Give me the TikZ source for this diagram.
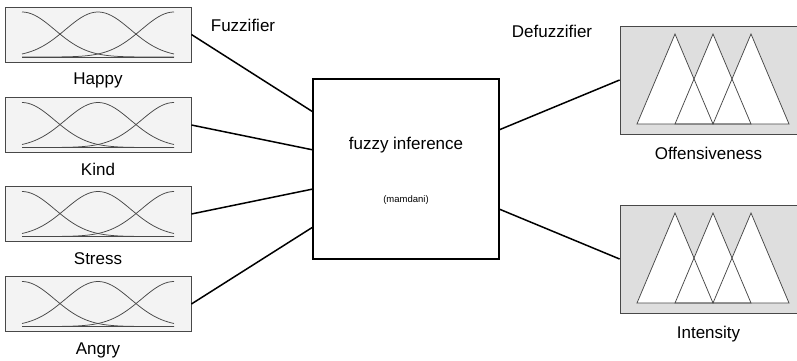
\documentclass[tikz,border=0pt]{standalone}
\usepackage{fontspec}
\setmainfont{Liberation Sans}
\usetikzlibrary{positioning,calc}
\definecolor{inbox}{HTML}{F3F3F3}
\definecolor{outbox}{HTML}{DEDEDE}
\definecolor{mfline}{HTML}{484848}

\begin{document}
\begin{tikzpicture}[x=1pt,y=-1pt,
    inset/.style={draw=mfline, fill=inbox, line width=0.8pt, minimum width=186pt, minimum height=55pt, inner sep=0pt},
    outset/.style={draw=mfline, fill=outbox, line width=0.8pt, minimum width=177pt, minimum height=108pt, inner sep=0pt},
    rulebox/.style={draw=black, line width=1.6pt, minimum width=186pt, minimum height=180pt, inner sep=0pt},
    varname/.style={font=\fontsize{17}{19}\selectfont, inner sep=0pt},
    mf/.style={draw=mfline, line width=0.75pt},
    link/.style={line width=1.5pt}]
\useasboundingbox (0,0) rectangle (797,361);

% inputs
\foreach \n/\lab/\y in {happy/Happy/34.5, kind/Kind/125, stress/Stress/214, angry/Angry/304}{
  \node[inset] (\n) at (98,\y) {};
  \node[varname, below=10.5pt of \n] (\n lbl) {\lab};
  \foreach \c in {-76,0,76}
    \draw[mf, shift={(\n.center)}] plot[domain=-76:76, samples=50, smooth] (\x,{22.5-45*exp(-((\x-\c)/10)^2/21.38)});
  \draw[mf, shift={(\n.center)}] (-76,22.5) -- (76,22.5);
}

% rule block
\node[rulebox] (infer) at (406,169) {};
\node[varname] (title) at (406,145) {fuzzy inference};
\node[font=\fontsize{9.5}{11}\selectfont, inner sep=0pt] (method) at (406,200) {(mamdani)};

% outputs
\foreach \n/\lab/\y in {offens/Offensiveness/80, intens/Intensity/259}{
  \node[outset] (\n) at (708.5,\y) {};
  \node[varname, below=12.5pt of \n] (\n lbl) {\lab};
  \foreach \a in {-71.5,-33.5,4.5}
    \fill[white, shift={(\n.center)}] (\a,44) -- (\a+38,-46) -- (\a+76,44) -- cycle;
  \foreach \a in {-71.5,-33.5,4.5}
    \draw[mf, shift={(\n.center)}] (\a,44) -- (\a+38,-46) -- (\a+76,44) -- cycle;
}

\node[varname] (fuzz) at (243,25.5) {Fuzzifier};
\node[varname] (defuzz) at (552,31.5) {Defuzzifier};

% connectors
\foreach \n/\f in {happy/0.183, kind/0.394, stress/0.611, angry/0.822}{
  \coordinate (in\n) at ($(infer.north west)!\f!(infer.south west)$);
  \draw[link] (\n.east) -- (in\n);
}
\foreach \n/\f in {offens/0.283, intens/0.722}{
  \coordinate (out\n) at ($(infer.north east)!\f!(infer.south east)$);
  \draw[link] (out\n) -- (\n.west);
}
\end{tikzpicture}
\end{document}
